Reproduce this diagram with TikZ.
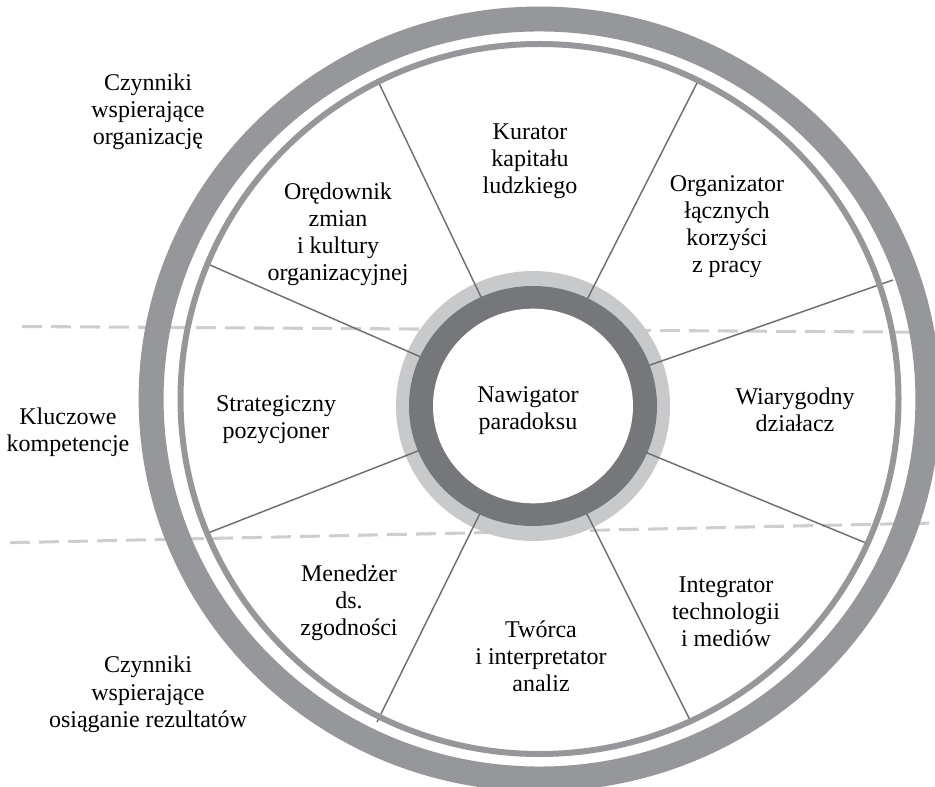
\documentclass[tikz,border=0pt]{standalone}
\usepackage{fontspec}
\setmainfont{Liberation Serif}
\definecolor{ringgray}{RGB}{150,151,155}
\definecolor{lightring}{RGB}{200,201,203}
\definecolor{darkring}{RGB}{118,119,123}
\definecolor{spokegray}{RGB}{110,111,115}
\definecolor{dashgray}{RGB}{205,206,207}
\begin{document}
\begin{tikzpicture}[x=0.75pt,y=-0.75pt,
    spoke/.style={draw=spokegray,line width=1.1pt},
    sep/.style={draw=dashgray,line width=2.3pt,dash pattern=on 15pt off 6.75pt},
    lbl/.style={align=center,font=\fontsize{18}{20.3}\selectfont,inner sep=0pt}]
    \useasboundingbox (0,0) rectangle (935,787);
    \coordinate (c) at (533,406);
    \coordinate (o) at (539.5,399);

    \draw[sep] (22,326.5) -- (935,332.3);
    \draw[sep] (10,542.7) -- (935,523);

    \fill[lightring] (c) ellipse [x radius=102.75pt, y radius=101.25pt];
    \foreach \x/\y in {377/79, 697/83, 893/280, 866/543, 690/720, 377/722, 208/533, 210/265}
        \draw[spoke] (c) -- (\x,\y);

    \draw[ringgray,line width=18.7pt] (o) ellipse [x radius=291.3pt, y radius=285pt];
    \draw[ringgray,line width=4.5pt] (o) ellipse [x radius=269.25pt, y radius=266.25pt];

    \fill[darkring] (c) ellipse [x radius=93pt, y radius=90pt];
    \fill[white] (c) ellipse [x radius=75pt, y radius=73pt];

    \node[lbl] (nawigator) at (528,411) {Nawigator\\paradoksu};
    \node[lbl] (kurator) at (530,161.6) {Kurator\\kapitału\\ludzkiego};
    \node[lbl] (oredownik) at (338,234.2) {Orędownik\\zmian\\i kultury\\organizacyjnej};
    \node[lbl] (organizator) at (727,227) {Organizator\\łącznych\\korzyści\\z pracy};
    \node[lbl] (strateg) at (276,420) {Strategiczny\\pozycjoner};
    \node[lbl] (dzialacz) at (795,410) {Wiarygodny\\działacz};
    \node[lbl] (menedzer) at (349,603) {Menedżer\\ds.\\zgodności};
    \node[lbl] (tworca) at (541,656.7) {Twórca\\i interpretator\\analiz};
    \node[lbl] (integrator) at (726,612) {Integrator\\technologii\\i mediów};

    \node[lbl] (organizacja) at (148,112) {Czynniki\\wspierające\\organizację};
    \node[lbl] (kompetencje) at (68,432) {Kluczowe\\kompetencje};
    \node[lbl] (rezultaty) at (148,694.3) {Czynniki\\wspierające\\osiąganie rezultatów};
\end{tikzpicture}
\end{document}
